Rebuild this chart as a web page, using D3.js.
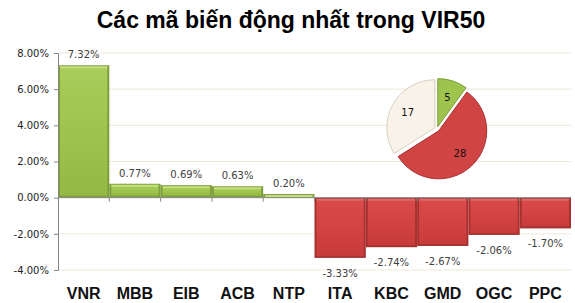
<!DOCTYPE html>
<html>
<head>
<meta charset="utf-8">
<script src="https://cdn.jsdelivr.net/npm/d3@7"></script>
<style>
  body { margin: 0; background: #fff; }
  svg { display: block; }
</style>
</head>
<body>
<div id="chart"></div>
<script>
var width = 575, height = 303;

// Data
var codes = ["VNR", "MBB", "EIB", "ACB", "NTP", "ITA", "KBC", "GMD", "OGC", "PPC"];
var changes = [7.32, 0.77, 0.69, 0.63, 0.20, -3.33, -2.74, -2.67, -2.06, -1.70];
var yTicks = [-4, -2, 0, 2, 4, 6, 8];
var pieLabels = ["up", "down", "flat"];
var pieCounts = [5, 28, 17];

var svg = d3.select("#chart").append("svg")
    .attr("width", width)
    .attr("height", height);

var defs = svg.append("defs");
function grad(id, c1, c2, c3) {
  var g = defs.append("linearGradient").attr("id", id)
    .attr("x1", 0).attr("x2", 0).attr("y1", 0).attr("y2", 1);
  g.append("stop").attr("offset", "0%").attr("stop-color", c1);
  g.append("stop").attr("offset", "50%").attr("stop-color", c2);
  g.append("stop").attr("offset", "100%").attr("stop-color", c3);
}
grad("gGreen", "#a9cc5a", "#9fc44e", "#93b945");
grad("gRed", "#d94a4a", "#d24343", "#c83b3b");

var x = d3.scaleBand().domain(codes).range([58, 571]).padding(0);
var y = d3.scaleLinear().domain([-4, 8]).range([270, 53]);

// title
svg.append("text")
    .attr("x", 291).attr("y", 28)
    .attr("text-anchor", "middle")
    .style("font-family", "Liberation Sans, Arial, sans-serif")
    .style("font-weight", "bold")
    .style("font-size", "23px")
    .text("Các mã biến động nhất trong VIR50");

// gridlines
svg.append("g").selectAll("line")
  .data(yTicks.filter(function(d){ return d != 0; }))
  .enter().append("line")
    .attr("x1", 58).attr("x2", 571)
    .attr("y1", function(d){ return y(d); })
    .attr("y2", function(d){ return y(d); })
    .attr("stroke", "#efe8dc");

// bars
var bars = svg.append("g").selectAll("g")
  .data(codes)
  .enter().append("g");

bars.append("rect")
    .attr("x", function(d){ return x(d); })
    .attr("y", function(d, i){ return Math.min(y(changes[i]), y(0)); })
    .attr("width", x.bandwidth())
    .attr("height", function(d, i){ return Math.abs(y(changes[i]) - y(0)); })
    .attr("fill", function(d, i){ return changes[i] >= 0 ? "#7d9e3a" : "#a8302f"; });

bars.append("rect")
    .attr("x", function(d){ return x(d) + 2; })
    .attr("y", function(d, i){ return Math.min(y(changes[i]), y(0)) + 2; })
    .attr("width", x.bandwidth() - 4)
    .attr("height", function(d, i){ return Math.max(0, Math.abs(y(changes[i]) - y(0)) - 4); })
    .attr("fill", function(d, i){ return changes[i] >= 0 ? "url(#gGreen)" : "url(#gRed)"; });

// top bevel highlight
bars.append("rect")
    .attr("x", function(d){ return x(d) + 2; })
    .attr("y", function(d, i){ return Math.min(y(changes[i]), y(0)) + 1; })
    .attr("width", x.bandwidth() - 4)
    .attr("height", 2)
    .attr("fill", function(d, i){ return changes[i] >= 0 ? "#c6e07e" : "#e06a6a"; });

// value labels
bars.append("text")
    .attr("x", function(d){ return x(d) + x.bandwidth() / 2; })
    .attr("y", function(d, i){ return changes[i] >= 0 ? y(changes[i]) - 7 : y(changes[i]) + 19; })
    .attr("text-anchor", "middle")
    .style("font-family", "DejaVu Sans, Verdana, sans-serif")
    .style("font-size", "10px")
    .attr("fill", "#404040")
    .text(function(d, i){ return changes[i].toFixed(2) + "%"; });

// y axis
var yAxis = d3.axisLeft(y)
    .tickValues(yTicks)
    .tickSize(4)
    .tickFormat(function(d){ return d.toFixed(2) + "%"; });
var gy = svg.append("g").attr("transform", "translate(58,0)").call(yAxis);
gy.select(".domain").attr("stroke", "#868686");
gy.selectAll(".tick line").attr("stroke", "#868686");
gy.selectAll(".tick text")
    .attr("x", -9)
    .style("font-family", "DejaVu Sans, Verdana, sans-serif")
    .style("font-size", "10px")
    .attr("fill", "#222");

// zero line with category ticks
svg.append("line")
    .attr("x1", 58).attr("x2", 571)
    .attr("y1", y(0)).attr("y2", y(0))
    .attr("stroke", "#868686");
svg.append("g").selectAll("line")
  .data(codes.slice(1))
  .enter().append("line")
    .attr("x1", function(d){ return x(d); })
    .attr("x2", function(d){ return x(d); })
    .attr("y1", y(0)).attr("y2", y(0) + 4)
    .attr("stroke", "#868686");

// category labels
svg.append("g").selectAll("text")
  .data(codes)
  .enter().append("text")
    .attr("x", function(d){ return x(d) + x.bandwidth() / 2; })
    .attr("y", 299)
    .attr("text-anchor", "middle")
    .style("font-family", "Liberation Sans, Arial, sans-serif")
    .style("font-weight", "bold")
    .style("font-size", "16px")
    .attr("fill", "#111")
    .text(function(d){ return d; });

// pie
var pieColors = ["#9fc44e", "#d14444", "#f8f2e8"];
var pieEdges = ["#7d9e3a", "#a8302f", "#d8d0c0"];
var pie = d3.pie().sort(null).value(function(d){ return d; });
var arc = d3.arc().innerRadius(0).outerRadius(48);
var arcs = pie(pieCounts);
var pg = svg.append("g").attr("transform", "translate(437,129)");
var slices = pg.selectAll("g").data(arcs).enter().append("g")
    .attr("transform", function(d){
      var a = (d.startAngle + d.endAngle) / 2, off = 2.5;
      return "translate(" + (Math.sin(a) * off) + "," + (-Math.cos(a) * off) + ")";
    });
slices.append("path")
    .attr("d", arc)
    .attr("fill", function(d, i){ return pieColors[i]; })
    .attr("stroke", function(d, i){ return pieEdges[i]; })
    .attr("stroke-width", 1);
slices.append("text")
    .attr("transform", function(d){
      var c = d3.arc().innerRadius(0).outerRadius(62).centroid(d);
      return "translate(" + c[0] + "," + c[1] + ")";
    })
    .attr("text-anchor", "middle")
    .attr("dy", "0.35em")
    .style("font-family", "DejaVu Sans, Verdana, sans-serif")
    .style("font-size", "10px")
    .attr("fill", "#111")
    .text(function(d){ return d.data; });
</script>
</body>
</html>
